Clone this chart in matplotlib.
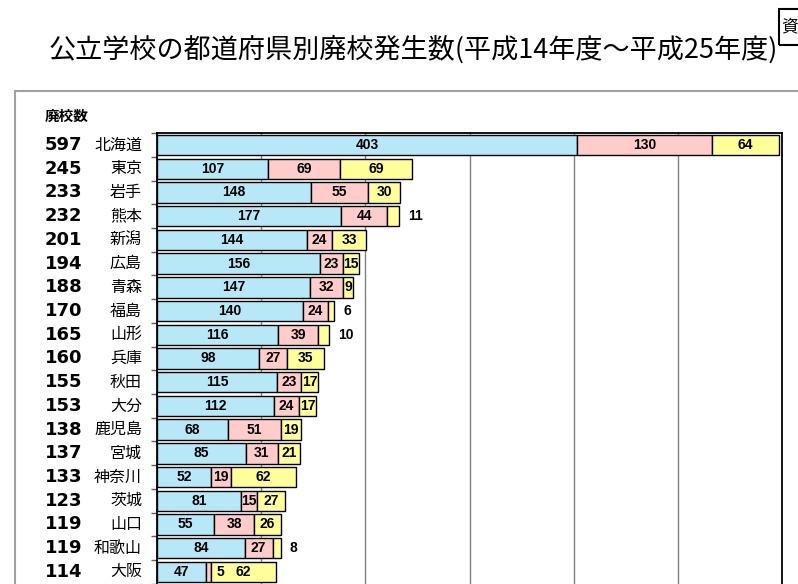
import matplotlib
matplotlib.use("Agg")
import matplotlib.pyplot as plt
import matplotlib.transforms as mtransforms
from matplotlib.patches import Rectangle

plt.rcParams['font.family'] = ['Noto Sans CJK JP', 'DejaVu Sans']

# Data (prefecture, three categories of closed schools)
PREFS = ["北海道", "東京", "岩手", "熊本", "新潟", "広島", "青森", "福島", "山形", "兵庫",
         "秋田", "大分", "鹿児島", "宮城", "神奈川", "茨城", "山口", "和歌山", "大阪"]
SERIES_A = [403, 107, 148, 177, 144, 156, 147, 140, 116, 98, 115, 112, 68, 85, 52, 81, 55, 84, 47]
SERIES_B = [130, 69, 55, 44, 24, 23, 32, 24, 39, 27, 23, 24, 51, 31, 19, 15, 38, 27, 5]
SERIES_C = [64, 69, 30, 11, 33, 15, 9, 6, 10, 35, 17, 17, 19, 21, 62, 27, 26, 8, 62]
TOTALS = [a + b + c for a, b, c in zip(SERIES_A, SERIES_B, SERIES_C)]

# rows whose third label sits outside the bar
OUTSIDE_C = ["熊本", "福島", "山形", "和歌山"]
# rows whose second label sits just right of the segment
SHIFT_B = ["大阪"]

BLUE = "#B7E8F8"
PINK = "#FFCCCC"
YELLOW = "#FFFF99"

W, H = 798, 584
fig = plt.figure(figsize=(W / 100, H / 100), dpi=100)

# Outer frame of the slide
fig.patches.append(Rectangle((15 / W, -0.1), 1.2, 1 - 91 / H + 0.1, transform=fig.transFigure,
                             fill=False, edgecolor="#A0A0A0", linewidth=1.5))
# "資料" tag box in the corner (cut off by the page edge)
fig.patches.append(Rectangle((779 / W, 1 - 45 / H), 0.2, 36 / H, transform=fig.transFigure,
                             fill=False, edgecolor="black", linewidth=1.5))
fig.text(781 / W, 1 - 27 / H, "資", fontsize=12, ha="left", va="center")

fig.text(413 / W, 1 - 50 / H, "公立学校の都道府県別廃校発生数(平成14年度～平成25年度)",
         fontsize=19.5, ha="center", va="center")
fig.text(45 / W, 1 - 116 / H, "廃校数", fontsize=10.5, fontweight="bold", ha="left", va="center")

ax = fig.add_axes([157 / W, 0, (782 - 157) / W, 1 - 133 / H])
n = len(PREFS)
ys = list(range(n))
h = 0.86
ax.barh(ys, SERIES_A, height=h, color=BLUE, edgecolor="black", linewidth=1, zorder=3)
ax.barh(ys, SERIES_B, height=h, left=SERIES_A, color=PINK, edgecolor="black", linewidth=1, zorder=3)
left_c = [a + b for a, b in zip(SERIES_A, SERIES_B)]
ax.barh(ys, SERIES_C, height=h, left=left_c, color=YELLOW, edgecolor="black", linewidth=1, zorder=3)

ax.set_xlim(0, 600)
ax.set_ylim(18.51, -0.506)
ax.set_xticks([100, 200, 300, 400, 500])
ax.grid(axis="x", color="#808080", linewidth=1, zorder=0)
ax.tick_params(axis="x", length=0, labelbottom=False)
ax.set_yticks([i + 0.5 for i in range(-1, n)])
ax.tick_params(axis="y", direction="out", length=4, width=1, color="#606060", labelleft=False)
ax.spines["bottom"].set_visible(False)
for s in ["top", "left", "right"]:
    ax.spines[s].set_linewidth(1.3)

lab = dict(fontsize=10, fontweight="bold", family="Liberation Sans", va="center", zorder=5)
for i, p in enumerate(PREFS):
    a, b, c = SERIES_A[i], SERIES_B[i], SERIES_C[i]
    ax.text(a / 2, i, str(a), ha="center", **lab)
    if p in SHIFT_B:
        off = mtransforms.offset_copy(ax.transData, fig=fig, x=5, y=0, units="dots")
        ax.text(a + b, i, str(b), ha="left", transform=off, **lab)
    else:
        ax.text(a + b / 2, i, str(b), ha="center", **lab)
    if p in OUTSIDE_C:
        off = mtransforms.offset_copy(ax.transData, fig=fig, x=9, y=0, units="dots")
        ax.text(TOTALS[i], i, str(c), ha="left", transform=off, **lab)
    else:
        ax.text(a + b + c / 2, i, str(c), ha="center", **lab)

# Left columns: totals and prefecture names
tr = mtransforms.blended_transform_factory(fig.transFigure, ax.transData)
for i, p in enumerate(PREFS):
    ax.text(45 / W, i, str(TOTALS[i]), transform=tr, ha="left", va="center",
            fontsize=13, fontweight="bold", family="DejaVu Sans", clip_on=False)
    ax.text(142 / W, i, p, transform=tr, ha="right", va="center", fontsize=11.5, clip_on=False)

fig.savefig("out.png", dpi=100)
